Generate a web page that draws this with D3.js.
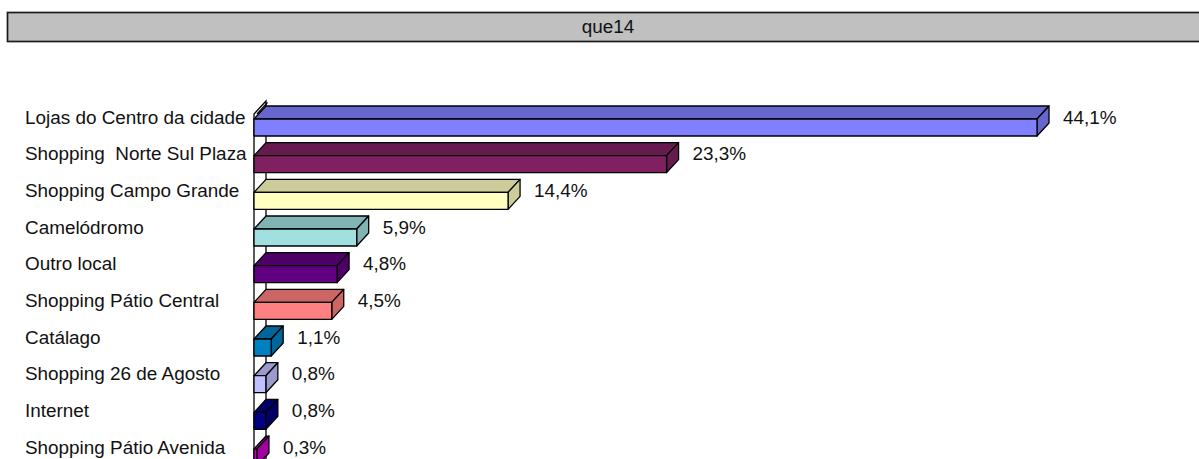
<!DOCTYPE html>
<html>
<head>
<meta charset="utf-8">
<script src="https://cdn.jsdelivr.net/npm/d3@7"></script>
<style>
  body { margin: 0; background: #fff; overflow: hidden; }
  text { font-family: "Liberation Sans", Arial, sans-serif; fill: #111; white-space: pre; }
</style>
</head>
<body>
<script>
// data
const categories = [
  "Lojas do Centro da cidade",
  "Shopping  Norte Sul Plaza",
  "Shopping Campo Grande",
  "Camelódromo",
  "Outro local",
  "Shopping Pátio Central",
  "Catálago",
  "Shopping 26 de Agosto",
  "Internet",
  "Shopping Pátio Avenida"
];
const values = [44.1, 23.3, 14.4, 5.9, 4.8, 4.5, 1.1, 0.8, 0.8, 0.3];
const title = "que14";

// front / top face colours
const frontColors = ["#8080ff", "#802060", "#ffffc0", "#a0e0e0", "#600080",
                     "#ff8080", "#0080c0", "#c0c0ff", "#000080", "#cc00cc"];
const topColors   = ["#6666cc", "#661a4d", "#cccc9a", "#80b3b3", "#4d0066",
                     "#cc6666", "#006699", "#9a9acc", "#000066", "#a300a3"];

let width = 1199, height = 459;
let svg = null;
let x, y = null;
const depthX = 12, depthY = 13;
const fontSize = 18.9;

appendSvg("body");
appendTitle();
setupScales();
appendWall();
appendBars();
appendLabels();

function appendSvg(domElement) {
  svg = d3.select(domElement).append("svg")
    .attr("width", width)
    .attr("height", height);
}

function appendTitle() {
  svg.append("rect")
    .attr("x", 7.5).attr("y", 12.5)
    .attr("width", 1210).attr("height", 29)
    .style("fill", "#c0c0c0")
    .style("stroke", "#1a1a1a")
    .style("stroke-width", 1.7);
  svg.append("text")
    .attr("x", 608).attr("y", 33)
    .attr("text-anchor", "middle")
    .style("font-size", fontSize + "px")
    .text(title);
}

function setupScales() {
  x = d3.scaleLinear()
    .domain([0, 50])
    .range([251.6, 251.6 + 890.5]);
  y = d3.scaleBand()
    .domain(categories)
    .range([101, 101 + 36.67 * categories.length]);
}

function appendWall() {
  const x0 = 254, top = 114;
  svg.append("polygon")
    .attr("points", [[x0, height + 5], [x0, top], [x0 + depthX, top - depthY],
                     [x0 + depthX, height + 5]].join(" "))
    .style("fill", "#fff")
    .style("stroke", "#000")
    .style("stroke-width", 1.3);
  svg.append("line")
    .attr("x1", x0 + 3).attr("y1", top)
    .attr("x2", x0 + depthX + 1.5).attr("y2", top - depthY + 1.5)
    .style("stroke", "#000").style("stroke-width", 1.2);
}

function appendBars() {
  const bars = svg.selectAll(".bar")
    .data(values)
    .enter()
    .append("g")
    .attr("class", "bar");

  bars.each(function(d, i) {
    const g = d3.select(this);
    const x0 = 254;
    const x1 = x(d);
    const yt = y(categories[i]) + 18;
    const yb = y(categories[i]) + 35;
    // top face
    g.append("polygon")
      .attr("points", [[x0, yt], [x0 + depthX, yt - depthY], [x1 + depthX, yt - depthY], [x1, yt]].join(" "))
      .style("fill", topColors[i]);
    // side face
    g.append("polygon")
      .attr("points", [[x1, yt], [x1 + depthX, yt - depthY], [x1 + depthX, yb - depthY], [x1, yb]].join(" "))
      .style("fill", topColors[i]);
    // front face
    g.append("rect")
      .attr("x", x0).attr("y", yt)
      .attr("width", x1 - x0).attr("height", yb - yt)
      .style("fill", frontColors[i]);
    g.selectAll("polygon, rect")
      .style("stroke", "#000")
      .style("stroke-width", 1.3)
      .style("stroke-linejoin", "round");
  });
}

function appendLabels() {
  svg.selectAll(".cat")
    .data(categories)
    .enter()
    .append("text")
    .attr("class", "cat")
    .attr("x", 25)
    .attr("y", function(d) { return y(d) + 22.6; })
    .style("font-size", fontSize + "px")
    .text(function(d) { return d; });

  svg.selectAll(".val")
    .data(values)
    .enter()
    .append("text")
    .attr("class", "val")
    .attr("x", function(d) { return x(d) + depthX + 14; })
    .attr("y", function(d, i) { return y(categories[i]) + 22.6; })
    .style("font-size", fontSize + "px")
    .text(function(d) { return d3.format(".1f")(d).replace(".", ",") + "%"; });
}
</script>
</body>
</html>
